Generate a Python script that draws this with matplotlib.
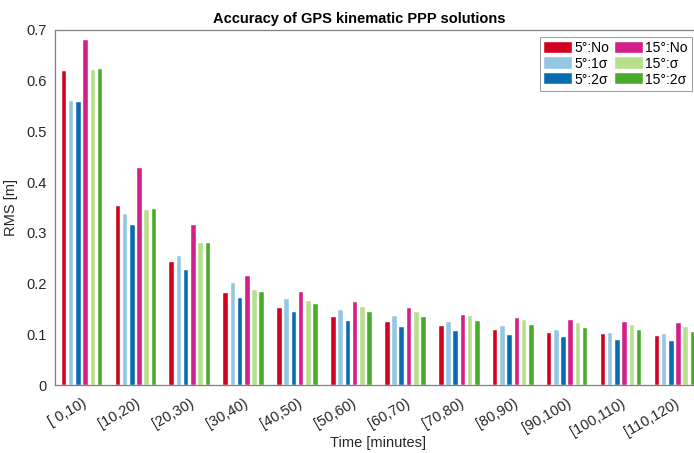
import numpy as np
import matplotlib.pyplot as plt

plt.rcParams['font.family'] = ['Liberation Sans', 'DejaVu Sans']

"Data"
intervals = ['[ 0,10)', '[10,20)', '[20,30)', '[30,40)', '[40,50)', '[50,60)',
             '[60,70)', '[70,80)', '[80,90)', '[90,100)', '[100,110)', '[110,120)']
rms_5_no = [0.619, 0.353, 0.242, 0.181, 0.151, 0.134, 0.124, 0.116, 0.108, 0.103, 0.100, 0.097]
rms_5_1s = [0.560, 0.338, 0.255, 0.201, 0.169, 0.148, 0.136, 0.124, 0.116, 0.109, 0.103, 0.100]
rms_5_2s = [0.557, 0.315, 0.227, 0.172, 0.144, 0.126, 0.115, 0.106, 0.099, 0.094, 0.089, 0.087]
rms_15_no = [0.680, 0.427, 0.316, 0.215, 0.183, 0.164, 0.151, 0.139, 0.132, 0.128, 0.125, 0.122]
rms_15_s = [0.621, 0.345, 0.279, 0.187, 0.166, 0.154, 0.144, 0.136, 0.128, 0.123, 0.118, 0.115]
rms_15_2s = [0.623, 0.347, 0.280, 0.183, 0.160, 0.144, 0.134, 0.126, 0.118, 0.113, 0.108, 0.105]

series = [rms_5_no, rms_5_1s, rms_5_2s, rms_15_no, rms_15_s, rms_15_2s]
labels = ['5°:No', '5°:1σ', '5°:2σ', '15°:No', '15°:σ', '15°:2σ']
colors = ['#d0021f', '#93c7e2', '#0a6cb0', '#d41e8a', '#b6e08a', '#4aab2b']

fig = plt.figure(figsize=(6.94, 4.53), dpi=100)
ax = fig.add_axes([0.0793, 0.150, 0.932, 0.784])

x = np.arange(1, len(intervals) + 1)
step = 0.134
width = 0.085
for i, (vals, lab, col) in enumerate(zip(series, labels, colors)):
    ax.bar(x + (i - 2.5) * step, vals, width, color=col, label=lab,
           edgecolor='white', linewidth=0.3)

"Axes"
ax.set_xlim(0.5, 12.5)
ax.set_ylim(0, 0.7)
ax.set_yticks(np.arange(0, 0.71, 0.1))
ax.set_yticklabels(['0', '0.1', '0.2', '0.3', '0.4', '0.5', '0.6', '0.7'])
ax.set_xticks(x)
ax.set_xticklabels(intervals, rotation=30, ha='right', rotation_mode='anchor')
ax.tick_params(direction='in', length=0, labelsize=10.5, colors='#262626', pad=6)
ax.tick_params(axis='x', pad=8)
ax.spines['right'].set_visible(False)
for side in ['left', 'top', 'bottom']:
    ax.spines[side].set_color('#808080')
    ax.spines[side].set_linewidth(0.9)

ax.set_xlabel('Time [minutes]', fontsize=10.5, color='#262626', labelpad=-2)
ax.set_ylabel('RMS [m]', fontsize=10.5, color='#262626', labelpad=6)
ax.set_title('Accuracy of GPS kinematic PPP solutions', fontsize=10.5,
             fontweight='bold', pad=5, x=0.47)

leg = ax.legend(ncol=2, loc='upper right', bbox_to_anchor=(692 / 694, 1 - 37 / 453),
                bbox_transform=fig.transFigure,
                fontsize=10, frameon=True, fancybox=False, handlelength=2.0,
                handleheight=0.85, handletextpad=0.2, columnspacing=0.4,
                labelspacing=0.12, borderpad=0.3, borderaxespad=0)
leg.get_frame().set_edgecolor('#808080')
leg.get_frame().set_linewidth(0.7)

plt.savefig('out.png', dpi=100)
